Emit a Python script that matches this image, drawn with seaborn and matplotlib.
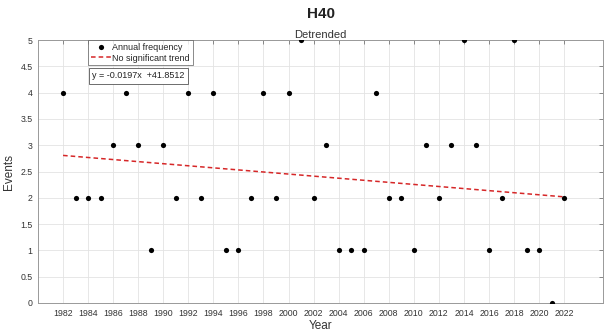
import numpy as np
import pandas as pd
import matplotlib
matplotlib.use("Agg")
import matplotlib.pyplot as plt
import seaborn as sns

years = list(range(1982, 2023))
events = [4, 2, 2, 2, 3, 4, 3, 1, 3, 2,
          4, 2, 4, 1, 1, 2, 4, 2, 4, 5,
          2, 3, 1, 1, 1, 4, 2, 2, 1, 3,
          2, 3, 5, 3, 1, 2, 5, 1, 1, 0,
          2]
slope = -0.0197
intercept = 41.8512
xticks = list(range(1982, 2023, 2))
yticks = [0, 0.5, 1, 1.5, 2, 2.5, 3, 3.5, 4, 4.5, 5]

df = pd.DataFrame({"Year": years, "Events": events})
trend = pd.DataFrame({"Year": [years[0], years[-1]]})
trend["Fit"] = slope * trend["Year"] + intercept

sns.set_theme(style="white")
plt.rcParams["font.family"] = ["Liberation Sans", "DejaVu Sans"]

fig = plt.figure(figsize=(6.07, 3.34), dpi=100)
ax = fig.add_axes([38/607, 1-303/334, (603-38)/607, (303-40)/334])

sns.scatterplot(data=df, x="Year", y="Events", ax=ax, color="black", s=14,
                edgecolor="black", linewidth=0, label="Annual frequency", zorder=3)
sns.lineplot(data=trend, x="Year", y="Fit", ax=ax, color="#d62728", linestyle=(0, (3, 2)),
             linewidth=1.1, label="No significant trend", zorder=2)

ax.set_xlim(1980, 2025.1)
ax.set_ylim(0, 5)
ax.set_xticks(xticks)
ax.set_xticklabels([str(t) for t in xticks], fontsize=6.3, color="#333333")
ax.set_yticks(yticks)
ax.set_yticklabels([f"{t:g}" for t in yticks], fontsize=6.3, color="#333333")
ax.grid(True, color="#e3e3e3", linewidth=0.6)
ax.tick_params(direction="in", length=3, width=0.6, color="#777777", top=True, right=True,
               pad=4)
for s in ax.spines.values():
    s.set_color("#999999")
    s.set_linewidth(0.7)
ax.set_xlabel("Year", fontsize=8.5, color="#333333", labelpad=2)
ax.set_ylabel("Events", fontsize=8.5, color="#333333", labelpad=4)

fig.text(0.5 * (38 + 603) / 607, 1 - 14 / 334, "H40", ha="center", va="center",
         fontsize=11, fontweight="bold", color="#222222")
ax.set_title("Detrended", fontsize=8, color="#333333", pad=1.5)

leg = ax.legend(loc="upper left", bbox_to_anchor=((88 - 38) / 565, 1.0), fontsize=6.5,
                frameon=True, fancybox=False, edgecolor="#555555", borderpad=0.3,
                handlelength=2.2, handletextpad=0.2, labelspacing=0.2, borderaxespad=0)
leg.get_frame().set_linewidth(0.6)

ax.text((92 - 38) / 565, 1 - (76 - 40) / 263, "y = -0.0197x  +41.8512", transform=ax.transAxes,
        fontsize=6.5, va="center", ha="left", color="#222222",
        bbox=dict(boxstyle="square,pad=0.35", fc="white", ec="#555555", lw=0.6))

fig.savefig("out.png", dpi=100)
